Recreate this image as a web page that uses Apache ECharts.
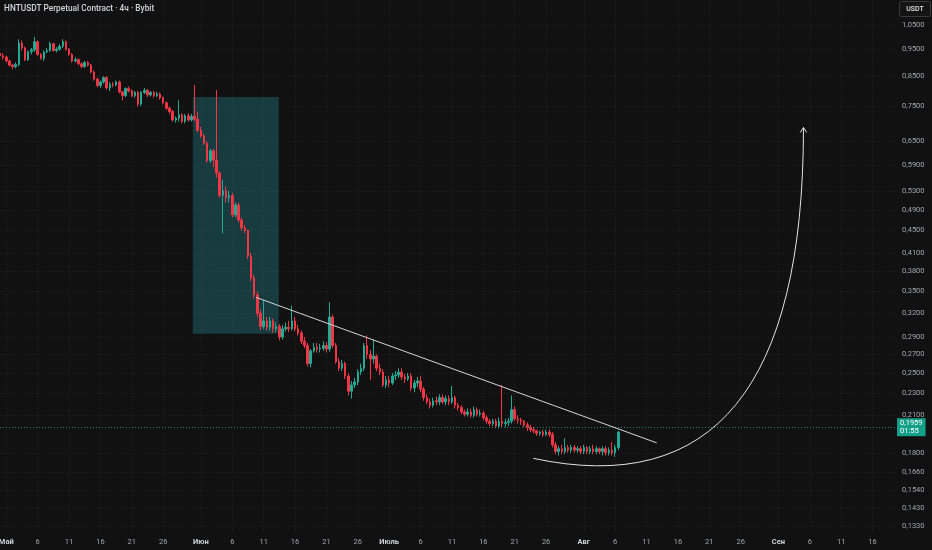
<!DOCTYPE html>
<html><head><meta charset="utf-8">
<script src="https://cdn.jsdelivr.net/npm/echarts@6/dist/echarts.min.js"></script>
<style>html,body{margin:0;padding:0;background:#111111;}#c{width:932px;height:550px;}</style>
</head><body><div id="c"></div>
<script>
const chartTitle = 'HNTUSDT Perpetual Contract · 4ч · Bybit';
const quoteUnit = 'USDT';
const candleStart = '2025-04-30T00:00';
const candleHours = 12;
// [open, high, low, close]
const ohlc = [
[.935,.945,.92,.925],[.925,.935,.91,.92],[.92,.925,.90,.905],[.905,.91,.885,.89],[.89,.895,.875,.885],
[.885,.90,.878,.892],[.892,.99,.885,.975],[.975,.985,.945,.955],[.955,.96,.905,.91],[.91,.945,.905,.94],
[.94,.955,.93,.948],[.948,1.00,.94,.98],[.98,.985,.925,.93],[.93,.935,.91,.915],[.915,.945,.905,.94],
[.94,.955,.935,.945],[.945,.98,.94,.972],[.972,.975,.94,.945],[.945,.958,.938,.95],[.95,.97,.945,.962],
[.962,.99,.955,.98],[.98,.985,.945,.95],[.95,.955,.925,.93],[.93,.935,.90,.905],[.905,.92,.90,.91],
[.91,.915,.89,.895],[.895,.90,.878,.885],[.885,.905,.88,.90],[.90,.905,.885,.89],[.89,.895,.86,.865],
[.865,.87,.835,.84],[.84,.845,.812,.818],[.818,.835,.81,.83],[.83,.85,.825,.845],[.845,.85,.805,.81],
[.81,.83,.80,.822],[.822,.83,.812,.82],[.82,.835,.815,.83],[.83,.835,.792,.797],[.797,.80,.77,.785],
[.785,.812,.78,.808],[.808,.815,.795,.80],[.80,.805,.78,.785],[.785,.80,.778,.795],[.795,.80,.75,.758],
[.758,.80,.752,.795],[.795,.81,.79,.802],[.802,.806,.78,.787],[.787,.80,.782,.795],[.795,.80,.778,.785],
[.785,.797,.78,.79],[.79,.795,.772,.778],[.778,.782,.757,.762],[.762,.766,.74,.745],[.745,.75,.728,.735],
[.735,.74,.705,.71],[.71,.72,.702,.715],[.715,.77,.705,.725],[.725,.73,.70,.706],[.706,.728,.70,.722],
[.722,.73,.705,.71],[.71,.728,.705,.72],[.72,.82,.706,.712],[.712,.735,.675,.68],[.68,.69,.66,.665],
[.665,.67,.64,.645],[.645,.65,.595,.60],[.60,.63,.595,.625],[.625,.63,.585,.602],[.602,.803,.56,.57],
[.57,.575,.515,.52],[.52,.555,.445,.53],[.53,.54,.505,.515],[.515,.53,.505,.52],[.52,.525,.475,.48],
[.48,.505,.475,.50],[.50,.505,.465,.47],[.47,.475,.45,.455],[.455,.46,.445,.45],[.45,.452,.40,.405],
[.405,.41,.365,.37],[.37,.375,.34,.345],[.345,.35,.315,.32],[.32,.325,.298,.303],[.303,.338,.30,.31],
[.31,.315,.298,.302],[.302,.315,.298,.31],[.31,.313,.295,.30],[.30,.308,.296,.303],[.303,.306,.286,.29],
[.29,.305,.287,.30],[.30,.308,.297,.302],[.302,.31,.296,.30],[.30,.33,.298,.31],[.31,.315,.297,.30],
[.30,.305,.292,.295],[.295,.298,.282,.285],[.285,.29,.277,.28],[.28,.283,.257,.26],[.26,.276,.256,.274],
[.274,.283,.272,.278],[.278,.283,.272,.276],[.276,.282,.272,.277],[.277,.285,.274,.28],[.28,.284,.272,.276],
[.276,.335,.273,.315],[.315,.318,.277,.28],[.28,.283,.26,.262],[.262,.266,.252,.255],[.255,.264,.252,.26],
[.26,.262,.244,.247],[.247,.25,.228,.232],[.232,.242,.225,.238],[.238,.245,.235,.241],[.241,.254,.238,.251],
[.251,.26,.248,.255],[.255,.283,.252,.28],[.28,.292,.265,.27],[.27,.275,.243,.265],[.265,.287,.26,.268],
[.268,.27,.252,.255],[.255,.26,.248,.251],[.251,.254,.236,.238],[.238,.247,.235,.243],[.243,.247,.236,.24],
[.24,.25,.238,.247],[.247,.252,.243,.248],[.248,.255,.245,.251],[.251,.255,.243,.246],[.246,.249,.24,.244],
[.244,.25,.242,.247],[.247,.25,.232,.235],[.235,.243,.231,.24],[.24,.246,.236,.242],[.242,.247,.231,.234],
[.234,.236,.223,.226],[.226,.229,.22,.222],[.222,.225,.216,.219],[.219,.226,.217,.223],[.223,.227,.219,.222],
[.222,.229,.219,.226],[.226,.229,.22,.222],[.222,.228,.219,.225],[.225,.228,.219,.222],[.222,.237,.22,.226],
[.226,.228,.216,.219],[.219,.221,.214,.217],[.217,.219,.211,.213],[.213,.215,.209,.211],[.211,.216,.209,.213],
[.213,.216,.208,.21],[.21,.218,.208,.215],[.215,.217,.209,.211],[.211,.215,.209,.212],[.212,.214,.206,.208],
[.208,.21,.203,.205],[.205,.207,.201,.203],[.203,.207,.201,.205],[.205,.207,.199,.201],[.201,.208,.199,.205],
[.205,.238,.20,.203],[.203,.207,.20,.204],[.204,.208,.201,.205],[.205,.228,.203,.215],[.215,.218,.205,.207],
[.207,.21,.203,.206],[.206,.208,.202,.205],[.205,.206,.20,.202],[.202,.204,.197,.20],[.20,.202,.196,.198],
[.198,.20,.195,.197],[.197,.198,.193,.195],[.195,.197,.193,.196],[.196,.198,.192,.194],[.194,.198,.193,.196],
[.196,.198,.192,.194],[.194,.196,.184,.186],[.186,.188,.179,.181],[.181,.185,.178,.183],[.183,.186,.179,.181],
[.181,.191,.179,.184],[.184,.186,.18,.182],[.182,.186,.18,.184],[.184,.186,.18,.182],[.182,.185,.18,.183],
[.183,.185,.179,.181],[.181,.186,.179,.184],[.184,.185,.179,.181],[.181,.185,.179,.183],[.183,.186,.179,.181],
[.181,.185,.179,.183],[.183,.184,.179,.181],[.181,.185,.178,.183],[.183,.185,.178,.18],[.18,.184,.178,.182],
[.182,.188,.178,.18],[.18,.186,.177,.184],[.184,.197,.182,.1959]
];
const xTickDates = [
'2025-05-01','2025-05-06','2025-05-11','2025-05-16','2025-05-21','2025-05-26',
'2025-06-01','2025-06-06','2025-06-11','2025-06-16','2025-06-21','2025-06-26',
'2025-07-01','2025-07-06','2025-07-11','2025-07-16','2025-07-21','2025-07-26',
'2025-08-01','2025-08-06','2025-08-11','2025-08-16','2025-08-21','2025-08-26',
'2025-09-01','2025-09-06','2025-09-11','2025-09-16'
];
const monthNames = ['Янв','Фев','Мар','Апр','Май','Июн','Июль','Авг','Сен','Окт','Ноя','Дек'];
const yTicks = [1.05,0.95,0.85,0.75,0.65,0.59,0.53,0.49,0.45,0.41,0.38,0.35,0.32,0.29,0.27,0.25,0.23,0.21,0.18,0.166,0.154,0.143,0.133];
const viewRange = ['2025-04-30T00:00','2025-09-19T17:45'];
const priceRange = [0.1293, 1.164];
const lastPrice = 0.1959;
const lastPriceTimer = '01:55';
const zone = [['2025-05-30T17:00', 0.78], ['2025-06-13T10:00', 0.294]];
const trendLine = [['2025-06-09T18:40', 0.3416], ['2025-08-12T14:50', 0.1875]];
// curve drawing: start, control point, end (arrow tip)
const curve = [['2025-07-23T23:00', 0.1759], ['2025-09-05T00:00', 0.1386], ['2025-09-05T00:00', 0.6882]];

const T = s => new Date(s.length === 10 ? s + 'T00:00' : s).getTime();
const t0 = T(candleStart);
const H = 3600 * 1000;
const candleData = ohlc.map((d, i) => [t0 + i * candleHours * H, d[0], d[3], d[2], d[1]]);
const xTicks = xTickDates.map(T);
const fmtPrice = v => Number(v).toFixed(4).replace('.', ',');
const FONT = 'Roboto, "Noto Sans", sans-serif';
const UP = '#22ab94', DOWN = '#f23645';
const DRAW = '#e3e3e3';

const chart = echarts.init(document.getElementById('c'), null, { renderer: 'canvas' });
chart.setOption({
  backgroundColor: '#111111',
  animation: false,
  textStyle: { fontFamily: FONT },
  title: { text: chartTitle, left: 4, top: 5, padding: 0, textStyle: { color: '#d1d4dc', fontSize: 8.3, fontWeight: 500, fontFamily: FONT } },
  grid: { left: 0, right: 36, top: 0, bottom: 17, containLabel: false, outerBoundsMode: 'none' },
  xAxis: {
    type: 'value', min: T(viewRange[0]), max: T(viewRange[1]),
    axisLine: { show: false }, axisTick: { show: false, customValues: xTicks },
    splitLine: { show: true, lineStyle: { color: '#232323', type: [1, 2], width: 1 } },
    axisLabel: {
      customValues: xTicks, color: '#a3a6af', fontSize: 7.5, margin: 5, fontFamily: FONT,
      formatter: v => { const d = new Date(v); return d.getDate() === 1 ? '{m|' + monthNames[d.getMonth()] + '}' : String(d.getDate()); },
      rich: { m: { color: '#cfd2da', fontWeight: 'bold', fontSize: 7.5, fontFamily: FONT } }
    }
  },
  yAxis: {
    type: 'log', logBase: 10, position: 'right', min: priceRange[0], max: priceRange[1],
    axisLine: { show: false }, axisTick: { show: false, customValues: yTicks },
    splitLine: { show: true, lineStyle: { color: '#232323', type: [1, 2], width: 1 } },
    axisLabel: { customValues: yTicks, color: '#a3a6af', fontSize: 7.5, margin: 6, fontFamily: FONT, formatter: v => fmtPrice(v) }
  },
  graphic: [{
    type: 'group', left: 899, top: 1,
    children: [
      { type: 'rect', shape: { x: 0, y: 0, width: 31, height: 15, r: 2 }, style: { fill: '#141414', stroke: '#3a3a3a', lineWidth: 1 } },
      { type: 'text', style: { text: quoteUnit, x: 15.5, y: 7.5, align: 'center', verticalAlign: 'middle', fill: '#e0e0e0', fontSize: 7, fontWeight: 500, fontFamily: FONT } }
    ]
  }],
  series: [
    {
      type: 'candlestick', data: candleData, encode: { x: 0, y: [1, 2, 3, 4] }, barWidth: 2,
      itemStyle: { color: UP, color0: DOWN, borderColor: UP, borderColor0: DOWN, borderWidth: 1 },
      markArea: {
        silent: true, itemStyle: { color: 'rgba(38,150,160,0.32)' },
        data: [[{ xAxis: T(zone[0][0]), yAxis: zone[0][1] }, { xAxis: T(zone[1][0]), yAxis: zone[1][1] }]]
      },
      markLine: {
        silent: true, symbol: 'none',
        lineStyle: { color: '#1c8c7a', type: [1, 2], width: 1 },
        label: {
          position: 'end', distance: 1, formatter: fmtPrice(lastPrice) + '\n' + lastPriceTimer,
          color: '#ffffff', backgroundColor: '#14a088', fontSize: 7.5, lineHeight: 8, padding: [1, 3, 1, 3], fontFamily: FONT
        },
        data: [{ yAxis: lastPrice }]
      }
    },
    {
      type: 'line', data: trendLine.map(p => [T(p[0]), p[1]]), symbol: 'none',
      lineStyle: { color: '#d6d6d6', width: 1 }, z: 5
    },
    {
      type: 'custom', z: 5, silent: true, clip: false,
      data: curve.map(p => [T(p[0]), p[1]]),
      encode: { x: 0, y: 1 },
      renderItem: (params, api) => {
        if (params.dataIndex !== 0) return null;
        const [a, c, b] = curve.map(p => api.coord([T(p[0]), p[1]]));
        const dx = b[0] - c[0], dy = b[1] - c[1], L = Math.hypot(dx, dy) || 1;
        const ux = dx / L, uy = dy / L, len = 5, w = 3.2;
        const bx = b[0] - ux * len, by = b[1] - uy * len;
        return {
          type: 'group',
          children: [
            { type: 'bezierCurve', shape: { x1: a[0], y1: a[1], x2: b[0], y2: b[1], cpx1: c[0], cpy1: c[1] },
              style: { stroke: DRAW, lineWidth: 1, fill: null } },
            { type: 'polyline', shape: { points: [[bx - uy * w, by + ux * w], [b[0], b[1]], [bx + uy * w, by - ux * w]] },
              style: { stroke: DRAW, lineWidth: 1, fill: null } }
          ]
        };
      }
    }
  ]
});
</script></body></html>
